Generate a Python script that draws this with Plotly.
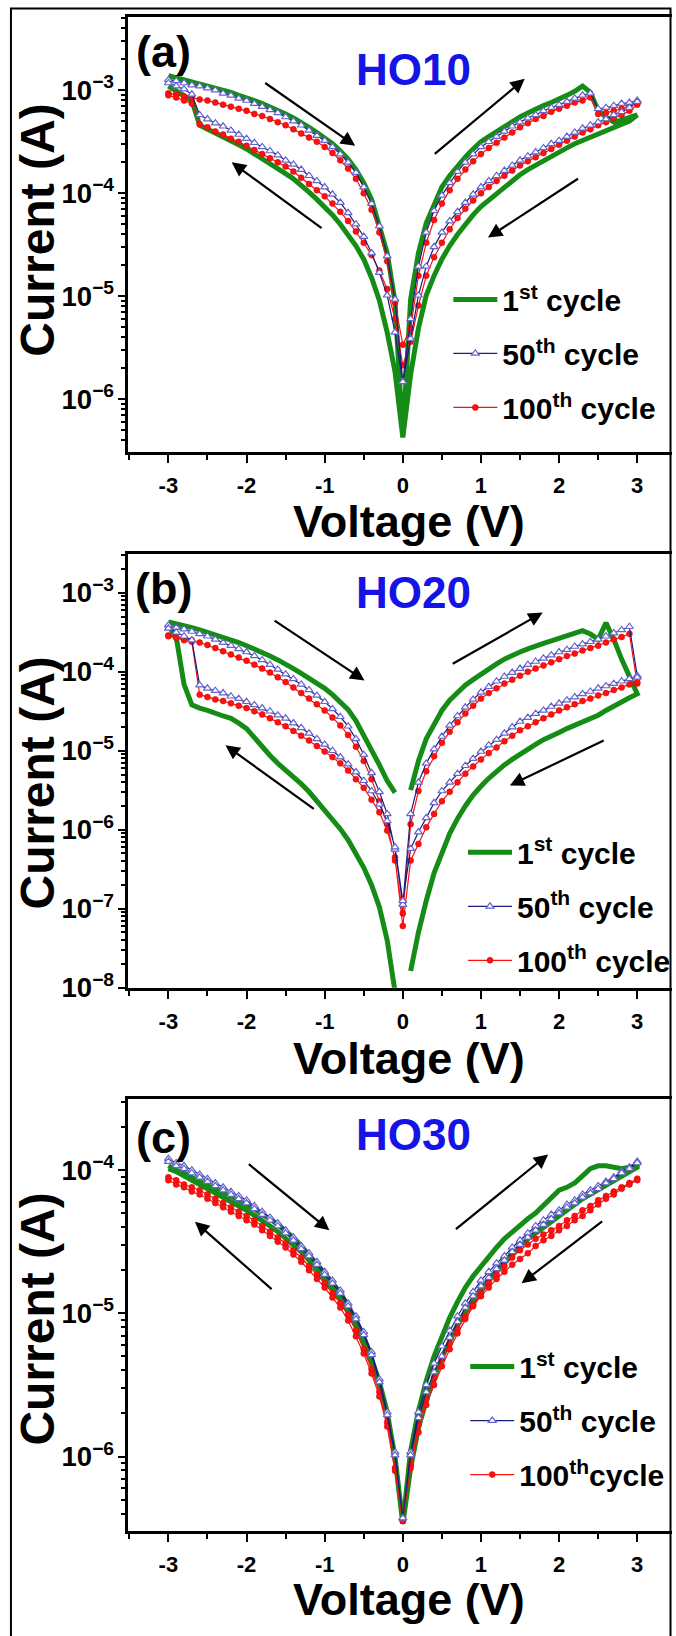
import plotly.graph_objects as go

FONT = "Liberation Sans, Arial, Helvetica, sans-serif"
W, H = 676, 1636

# ---------------- data: voltage sweep (V) ----------------
V_FWD = [-3.0, -2.9, -2.8, -2.7, -2.6, -2.5, -2.4, -2.3, -2.2, -2.1, -2.0, -1.9, -1.8, -1.7, -1.6, -1.5,
         -1.4, -1.3, -1.2, -1.1, -1.0, -0.9, -0.8, -0.7, -0.6, -0.5, -0.4, -0.3, -0.2, -0.1, 0.0,
         0.1, 0.2, 0.3, 0.4, 0.5, 0.6, 0.7, 0.8, 0.9, 1.0, 1.1, 1.2, 1.3, 1.4, 1.5,
         1.6, 1.7, 1.8, 1.9, 2.0, 2.1, 2.2, 2.3, 2.4, 2.5, 2.6, 2.7, 2.8, 2.9, 3.0]
V_REV = [3.0, 2.9, 2.8, 2.7, 2.6, 2.5, 2.4, 2.3, 2.2, 2.1, 2.0, 1.9, 1.8, 1.7, 1.6, 1.5,
         1.4, 1.3, 1.2, 1.1, 1.0, 0.9, 0.8, 0.7, 0.6, 0.5, 0.4, 0.3, 0.2, 0.1, 0.0,
         -0.1, -0.2, -0.3, -0.4, -0.5, -0.6, -0.7, -0.8, -0.9, -1.0, -1.1, -1.2, -1.3, -1.4, -1.5,
         -1.6, -1.7, -1.8, -1.9, -2.0, -2.1, -2.2, -2.3, -2.4, -2.5, -2.6, -2.7, -2.8, -2.9, -3.0]

# ---------------- data: log10(current / A) ----------------
# HO10
HO10_C1_FWD = [-2.86, -2.88, -2.90, -2.92, -2.93, -2.95, -2.97, -3.00, -3.02, -3.05, -3.07, -3.10, -3.13, -3.16, -3.19, -3.23,
               -3.27, -3.31, -3.36, -3.41, -3.46, -3.52, -3.59, -3.67, -3.77, -3.90, -4.06, -4.30, -4.58, -5.05, -6.37,
               -5.03, -4.58, -4.29, -4.10, -3.94, -3.83, -3.73, -3.65, -3.57, -3.50, -3.45, -3.40, -3.35, -3.30, -3.26,
               -3.22, -3.18, -3.15, -3.12, -3.09, -3.05, -3.01, -2.96, -3.02, -3.20, -3.26, -3.31, -3.29, -3.27, -3.24]
HO10_C1_REV = [-3.24, -3.30, -3.33, -3.36, -3.39, -3.42, -3.45, -3.48, -3.52, -3.56, -3.60, -3.64, -3.68, -3.72, -3.77, -3.82,
               -3.88, -3.94, -4.00, -4.06, -4.13, -4.21, -4.30, -4.40, -4.51, -4.64, -4.80, -4.99, -5.31, -5.76, -6.37,
               -5.73, -5.35, -5.04, -4.82, -4.64, -4.51, -4.40, -4.30, -4.21, -4.13, -4.06, -3.99, -3.92, -3.86, -3.81,
               -3.76, -3.71, -3.66, -3.61, -3.57, -3.53, -3.49, -3.45, -3.41, -3.38, -3.34, -3.10, -3.05, -3.00, -2.96]
HO10_C50_FWD = [-2.90, -2.91, -2.93, -2.95, -2.96, -2.98, -3.00, -3.03, -3.05, -3.08, -3.10, -3.13, -3.16, -3.19, -3.22, -3.26,
                -3.30, -3.34, -3.39, -3.44, -3.49, -3.55, -3.62, -3.70, -3.80, -3.94, -4.10, -4.32, -4.61, -5.03, -5.83,
                -5.22, -4.71, -4.38, -4.17, -4.02, -3.90, -3.79, -3.70, -3.62, -3.55, -3.50, -3.45, -3.40, -3.35, -3.31,
                -3.27, -3.24, -3.20, -3.17, -3.14, -3.11, -3.08, -3.05, -3.03, -3.18, -3.17, -3.15, -3.13, -3.12, -3.10]
HO10_C50_REV = [-3.11, -3.17, -3.21, -3.24, -3.28, -3.31, -3.34, -3.37, -3.41, -3.45, -3.49, -3.52, -3.56, -3.60, -3.64, -3.68,
                -3.73, -3.78, -3.83, -3.88, -3.94, -4.01, -4.09, -4.18, -4.27, -4.38, -4.52, -4.71, -4.99, -5.41, -5.83,
                -5.35, -4.99, -4.77, -4.58, -4.42, -4.30, -4.19, -4.09, -4.01, -3.94, -3.88, -3.83, -3.77, -3.72, -3.68,
                -3.63, -3.59, -3.55, -3.51, -3.47, -3.43, -3.39, -3.35, -3.32, -3.28, -3.24, -3.04, -2.99, -2.96, -2.93]
HO10_C100_FWD = [-3.03, -3.04, -3.06, -3.07, -3.09, -3.10, -3.12, -3.14, -3.16, -3.18, -3.20, -3.23, -3.25, -3.28, -3.31, -3.34,
                 -3.38, -3.42, -3.46, -3.50, -3.55, -3.61, -3.68, -3.76, -3.86, -4.00, -4.16, -4.38, -4.66, -5.06, -5.47,
                 -5.31, -4.80, -4.48, -4.26, -4.10, -3.97, -3.86, -3.77, -3.69, -3.62, -3.56, -3.51, -3.46, -3.41, -3.36,
                 -3.32, -3.28, -3.25, -3.21, -3.18, -3.15, -3.12, -3.10, -3.07, -3.23, -3.22, -3.20, -3.18, -3.15, -3.13]
HO10_C100_REV = [-3.14, -3.20, -3.24, -3.27, -3.31, -3.34, -3.38, -3.41, -3.45, -3.49, -3.53, -3.57, -3.61, -3.65, -3.69, -3.73,
                 -3.78, -3.83, -3.88, -3.94, -4.00, -4.07, -4.15, -4.24, -4.35, -4.48, -4.62, -4.80, -5.09, -5.44, -5.67,
                 -5.22, -4.93, -4.75, -4.60, -4.48, -4.37, -4.27, -4.18, -4.10, -4.03, -3.97, -3.91, -3.85, -3.79, -3.74,
                 -3.70, -3.66, -3.62, -3.58, -3.54, -3.50, -3.47, -3.43, -3.40, -3.36, -3.33, -3.13, -3.10, -3.07, -3.05]

# HO20
HO20_C1_FWD = [-3.37, -3.39, -3.42, -3.44, -3.47, -3.50, -3.53, -3.56, -3.60, -3.63, -3.67, -3.71, -3.76, -3.80, -3.85, -3.90,
               -3.96, -4.02, -4.08, -4.14, -4.21, -4.29, -4.38, -4.48, -4.62, -4.80, -4.98, -5.18, -5.38, -5.53, None,
               -5.50, -5.13, -4.85, -4.66, -4.49, -4.36, -4.26, -4.17, -4.10, -4.03, -3.96, -3.90, -3.84, -3.79, -3.75,
               -3.71, -3.67, -3.64, -3.61, -3.58, -3.55, -3.51, -3.48, -3.52, -3.59, -3.38, -3.59, -3.84, -4.05, -4.26]
HO20_C1_REV = [-4.28, -4.33, -4.38, -4.44, -4.49, -4.55, -4.59, -4.63, -4.67, -4.72, -4.77, -4.81, -4.86, -4.92, -4.98, -5.05,
               -5.11, -5.18, -5.26, -5.35, -5.45, -5.56, -5.70, -5.86, -6.05, -6.28, -6.55, -6.90, -7.30, -7.79, None,
               -8.05, -7.40, -6.98, -6.70, -6.48, -6.30, -6.13, -5.99, -5.87, -5.76, -5.64, -5.52, -5.42, -5.34, -5.26,
               -5.16, -5.06, -4.95, -4.83, -4.72, -4.65, -4.59, -4.56, -4.52, -4.49, -4.46, -4.42, -4.16, -3.56, -3.42]
HO20_C50_FWD = [-3.41, -3.44, -3.46, -3.49, -3.52, -3.55, -3.59, -3.63, -3.67, -3.71, -3.75, -3.80, -3.85, -3.91, -3.97, -4.03,
                -4.09, -4.16, -4.23, -4.30, -4.38, -4.47, -4.57, -4.69, -4.85, -5.05, -5.28, -5.52, -5.80, -6.25, -6.95,
                -5.80, -5.40, -5.16, -4.98, -4.82, -4.68, -4.56, -4.45, -4.35, -4.26, -4.19, -4.12, -4.06, -4.01, -3.96,
                -3.91, -3.87, -3.83, -3.79, -3.75, -3.72, -3.68, -3.65, -3.62, -3.59, -3.55, -3.51, -3.47, -3.43, -4.05]
HO20_C50_REV = [-4.07, -4.09, -4.12, -4.15, -4.18, -4.21, -4.25, -4.28, -4.32, -4.36, -4.40, -4.44, -4.49, -4.53, -4.58, -4.63,
                -4.70, -4.78, -4.86, -4.93, -5.01, -5.10, -5.19, -5.29, -5.40, -5.51, -5.66, -5.85, -6.03, -6.24, -6.90,
                -6.22, -5.89, -5.68, -5.51, -5.38, -5.27, -5.17, -5.08, -5.00, -4.92, -4.85, -4.78, -4.71, -4.65, -4.59,
                -4.55, -4.50, -4.46, -4.42, -4.38, -4.34, -4.31, -4.27, -4.24, -4.21, -4.17, -3.60, -3.55, -3.50, -3.45]
HO20_C100_FWD = [-3.54, -3.56, -3.58, -3.60, -3.63, -3.66, -3.70, -3.74, -3.78, -3.82, -3.86, -3.91, -3.96, -4.01, -4.07, -4.13,
                 -4.20, -4.27, -4.34, -4.41, -4.49, -4.58, -4.68, -4.80, -4.95, -5.13, -5.36, -5.64, -5.93, -6.39, -7.06,
                 -5.93, -5.51, -5.26, -5.07, -4.90, -4.76, -4.64, -4.53, -4.43, -4.34, -4.27, -4.21, -4.15, -4.10, -4.05,
                 -4.00, -3.96, -3.92, -3.88, -3.84, -3.80, -3.77, -3.73, -3.70, -3.67, -3.63, -3.59, -3.56, -3.52, -4.15]
HO20_C100_REV = [-4.13, -4.16, -4.20, -4.23, -4.27, -4.30, -4.34, -4.37, -4.41, -4.45, -4.49, -4.54, -4.59, -4.64, -4.69, -4.74,
                 -4.81, -4.88, -4.96, -5.03, -5.11, -5.20, -5.29, -5.40, -5.52, -5.64, -5.80, -5.97, -6.18, -6.39, -7.22,
                 -6.35, -6.01, -5.78, -5.62, -5.47, -5.36, -5.25, -5.16, -5.08, -5.01, -4.94, -4.87, -4.81, -4.75, -4.69,
                 -4.64, -4.59, -4.54, -4.50, -4.46, -4.43, -4.40, -4.37, -4.35, -4.32, -4.29, -3.62, -3.60, -3.57, -3.55]

# HO30
HO30_C1_FWD = [-3.97, -4.00, -4.02, -4.05, -4.08, -4.11, -4.13, -4.16, -4.18, -4.21, -4.24, -4.27, -4.31, -4.34, -4.38, -4.42,
               -4.47, -4.53, -4.59, -4.65, -4.72, -4.79, -4.86, -4.95, -5.06, -5.18, -5.32, -5.48, -5.69, -6.01, -6.47,
               -5.96, -5.68, -5.47, -5.30, -5.16, -5.03, -4.92, -4.82, -4.74, -4.67, -4.60, -4.54, -4.48, -4.43, -4.38,
               -4.34, -4.30, -4.25, -4.20, -4.14, -4.12, -4.09, -4.04, -3.99, -3.97, -3.97, -3.98, -3.99, -3.98, -3.97]
HO30_C1_REV = [-3.98, -4.01, -4.04, -4.07, -4.10, -4.14, -4.17, -4.20, -4.24, -4.28, -4.32, -4.35, -4.39, -4.43, -4.48, -4.53,
               -4.58, -4.64, -4.70, -4.77, -4.84, -4.91, -4.99, -5.08, -5.19, -5.31, -5.45, -5.61, -5.80, -6.08, -6.47,
               -6.00, -5.70, -5.50, -5.34, -5.21, -5.09, -4.99, -4.90, -4.83, -4.76, -4.69, -4.63, -4.57, -4.52, -4.47,
               -4.43, -4.39, -4.35, -4.31, -4.28, -4.25, -4.22, -4.19, -4.16, -4.13, -4.10, -4.07, -4.04, -4.01, -3.99]
HO30_C50_FWD = [-3.92, -3.95, -3.97, -4.00, -4.03, -4.06, -4.09, -4.12, -4.15, -4.18, -4.21, -4.25, -4.29, -4.33, -4.37, -4.42,
                -4.47, -4.53, -4.58, -4.64, -4.71, -4.77, -4.84, -4.93, -5.02, -5.13, -5.27, -5.46, -5.69, -5.97, -6.43,
                -5.97, -5.69, -5.50, -5.35, -5.23, -5.12, -5.02, -4.93, -4.85, -4.77, -4.71, -4.65, -4.60, -4.54, -4.49,
                -4.44, -4.39, -4.35, -4.31, -4.28, -4.24, -4.21, -4.17, -4.14, -4.11, -4.08, -4.05, -4.01, -3.98, -3.94]
HO30_C50_REV = [-3.95, -3.99, -4.02, -4.06, -4.09, -4.13, -4.16, -4.19, -4.23, -4.26, -4.30, -4.34, -4.38, -4.42, -4.47, -4.52,
                -4.57, -4.63, -4.69, -4.75, -4.81, -4.88, -4.96, -5.06, -5.17, -5.30, -5.41, -5.55, -5.73, -5.99, -6.43,
                -5.99, -5.71, -5.48, -5.29, -5.15, -5.04, -4.95, -4.86, -4.79, -4.73, -4.66, -4.60, -4.55, -4.49, -4.44,
                -4.39, -4.35, -4.31, -4.27, -4.23, -4.20, -4.17, -4.14, -4.11, -4.08, -4.05, -4.02, -3.99, -3.97, -3.94]
HO30_C100_FWD = [-4.05, -4.07, -4.10, -4.12, -4.14, -4.17, -4.20, -4.23, -4.26, -4.29, -4.32, -4.35, -4.39, -4.43, -4.47, -4.51,
                 -4.56, -4.61, -4.67, -4.73, -4.79, -4.86, -4.93, -5.01, -5.12, -5.25, -5.39, -5.55, -5.76, -6.08, -6.45,
                 -6.06, -5.78, -5.60, -5.45, -5.32, -5.21, -5.11, -5.02, -4.94, -4.86, -4.79, -4.73, -4.67, -4.61, -4.56,
                 -4.52, -4.48, -4.45, -4.42, -4.39, -4.35, -4.32, -4.28, -4.25, -4.21, -4.18, -4.15, -4.12, -4.09, -4.06]
HO30_C100_REV = [-4.07, -4.10, -4.13, -4.17, -4.20, -4.24, -4.28, -4.32, -4.35, -4.39, -4.42, -4.46, -4.49, -4.53, -4.58, -4.62,
                 -4.66, -4.71, -4.76, -4.82, -4.88, -4.95, -5.04, -5.14, -5.25, -5.37, -5.50, -5.64, -5.83, -6.08, -6.45,
                 -6.10, -5.79, -5.58, -5.42, -5.28, -5.16, -5.05, -4.96, -4.89, -4.82, -4.76, -4.70, -4.64, -4.59, -4.54,
                 -4.50, -4.46, -4.42, -4.38, -4.35, -4.32, -4.29, -4.26, -4.23, -4.20, -4.17, -4.15, -4.12, -4.10, -4.07]

SAMPLES = ["HO10", "HO20", "HO30"]
PANEL_LABELS = ["(a)", "(b)", "(c)"]
CYCLE_NAMES = [
    ["1<sup>st</sup> cycle", "50<sup>th</sup> cycle", "100<sup>th</sup> cycle"],
    ["1<sup>st</sup> cycle", "50<sup>th</sup> cycle", "100<sup>th</sup> cycle"],
    ["1<sup>st</sup> cycle", "50<sup>th</sup> cycle", "100<sup>th</sup>cycle"],
]
SERIES = [
    [(HO10_C1_FWD, HO10_C1_REV), (HO10_C50_FWD, HO10_C50_REV), (HO10_C100_FWD, HO10_C100_REV)],
    [(HO20_C1_FWD, HO20_C1_REV), (HO20_C50_FWD, HO20_C50_REV), (HO20_C100_FWD, HO20_C100_REV)],
    [(HO30_C1_FWD, HO30_C1_REV), (HO30_C50_FWD, HO30_C50_REV), (HO30_C100_FWD, HO30_C100_REV)],
]
X_TICKS = [-3, -2, -1, 0, 1, 2, 3]
X_TICKTEXT = ["-3", "-2", "-1", "0", "1", "2", "3"]

# sweep-direction arrows (tail V, tail log10 I, head V, head log10 I)
ARROWS = [
    [(-1.78, -2.92, -0.61, -3.54), (-1.02, -4.35, -2.19, -3.70), (0.39, -3.63, 1.56, -2.89), (2.26, -3.85, 1.09, -4.43)],
    [(-1.66, -3.34, -0.49, -4.11), (-1.12, -5.75, -2.27, -4.93), (0.62, -3.91, 1.79, -3.25), (2.59, -4.86, 1.37, -5.44)],
    [(-1.99, -3.95, -0.94, -4.42), (-1.66, -4.84, -2.66, -4.36), (0.66, -4.42, 1.86, -3.89), (2.57, -4.35, 1.52, -4.79)],
]

# ---------------- layout geometry (pixels in the 676x1636 page) ----------------
PLOT_TOP = [17.3, 559.0, 1109.0]
PLOT_BOT = [456.4, 997.0, 1545.0]
Y_RANGES = [[-6.513, -2.291], [-8.003, -2.507], [-6.519, -3.502]]
X_RANGE = [-3.514, 3.445]
X_LEFT = 129.0

GREEN = "#158c15"
NAVY = "#1c1c80"
TRI = "#6464cc"
RED = "#ff1010"


def py(p):
    return 1 - p / H


def px(p):
    return p / W


for grp in SERIES:
    for f, r in grp:
        assert len(f) == len(V_FWD) and len(r) == len(V_REV), (len(f), len(r))

fig = go.Figure()
legend_keys = ["legend", "legend2", "legend3"]


def cur(lst):
    return [None if v is None else 10 ** v for v in lst]


for i in range(3):
    xa = "x" if i == 0 else f"x{i+1}"
    ya = "y" if i == 0 else f"y{i+1}"
    (g_f, g_r), (b_f, b_r), (r_f, r_l) = SERIES[i]
    names = CYCLE_NAMES[i]
    xs = V_FWD + V_REV

    # 1st cycle
    fig.add_trace(go.Scatter(
        x=xs, y=cur(g_f + g_r), xaxis=xa, yaxis=ya, mode="lines", name=names[0],
        line=dict(color=GREEN, width=5), connectgaps=False,
        legend=legend_keys[i], legendgroup=f"g{i}1", legendrank=1))
    # 100th cycle
    fig.add_trace(go.Scatter(
        x=xs, y=cur(r_f + r_l), xaxis=xa, yaxis=ya, mode="lines+markers", name=names[2],
        line=dict(color=RED, width=1.2),
        marker=dict(symbol="circle", size=6, color=RED, line=dict(color="#d00000", width=0.5)),
        legend=legend_keys[i], legendgroup=f"g{i}3", legendrank=3))
    # 50th cycle
    fig.add_trace(go.Scatter(
        x=xs, y=cur(b_f + b_r), xaxis=xa, yaxis=ya, mode="lines+markers", name=names[1],
        line=dict(color=NAVY, width=1.2),
        marker=dict(symbol="triangle-up", size=7, color="white", line=dict(color=TRI, width=1.2)),
        legend=legend_keys[i], legendgroup=f"g{i}2", legendrank=2))

layout = dict(
    width=W, height=H, autosize=False,
    margin=dict(l=0, r=0, t=0, b=0, pad=0),
    paper_bgcolor="white", plot_bgcolor="white",
    font=dict(family=FONT, color="black"),
    showlegend=True,
)

legend_pos = [(498, 276), (513, 834), (515, 1353)]
for i in range(3):
    sx = "" if i == 0 else str(i + 1)
    dom = [py(PLOT_BOT[i]), py(PLOT_TOP[i])]
    layout[f"xaxis{sx}"] = dict(
        domain=[px(X_LEFT), 1.0], anchor=f"y{sx}", range=X_RANGE,
        tickmode="array", tickvals=X_TICKS, ticktext=X_TICKTEXT,
        ticks="outside", ticklen=8, tickwidth=2, tickcolor="black",
        minor=dict(dtick=0.5, tick0=0, ticks="outside", ticklen=5, tickwidth=2, tickcolor="black"),
        showline=True, linewidth=2.5, linecolor="black", mirror=True,
        showgrid=False, zeroline=False,
        tickfont=dict(family=FONT, size=22, color="black", weight="bold"),
        ticklabelstandoff=4,
    )
    layout[f"yaxis{sx}"] = dict(
        domain=dom, anchor=f"x{sx}", type="log", range=Y_RANGES[i],
        dtick=1, exponentformat="power", showexponent="all",
        ticks="outside", ticklen=7, tickwidth=2, tickcolor="black",
        minor=dict(dtick="D1", ticks="outside", ticklen=4, tickwidth=1.5, tickcolor="black"),
        showline=True, linewidth=2.5, linecolor="black", mirror=False,
        showgrid=False, zeroline=False,
        tickfont=dict(family=FONT, size=22, color="black", weight="bold"),
    )
    lx, ly = legend_pos[i]
    layout[legend_keys[i]] = dict(
        x=px(lx - 47), y=py(ly), xanchor="left", yanchor="top",
        bgcolor="rgba(0,0,0,0)", borderwidth=0,
        font=dict(family=FONT, size=30, color="black", weight="bold"),
        traceorder="grouped", tracegroupgap=12, itemwidth=44,
    )

fig.update_layout(**layout)

# text annotations
VOLT_Y = [526, 1068, 1614]
CURR_Y = [232, 790, 1331]
LABEL_Y = [52, 594, 1148]
SAMPLE_Y = [70, 598, 1145]
ann = []
for i in range(3):
    ann.append(dict(text="Voltage (V)", x=px(411), y=py(VOLT_Y[i]), xref="paper", yref="paper",
                    showarrow=False, xanchor="center", yanchor="middle",
                    font=dict(family=FONT, size=45, color="black", weight="bold")))
    ann.append(dict(text="Current (A)", x=px(38), y=py(CURR_Y[i]), xref="paper", yref="paper",
                    showarrow=False, xanchor="center", yanchor="middle", textangle=-90,
                    font=dict(family=FONT, size=48, color="black", weight="bold")))
    ann.append(dict(text=PANEL_LABELS[i], x=px(164), y=py(LABEL_Y[i]), xref="paper", yref="paper",
                    showarrow=False, xanchor="center", yanchor="middle",
                    font=dict(family=FONT, size=45, color="black", weight="bold")))
    ann.append(dict(text=SAMPLES[i], x=px(416), y=py(SAMPLE_Y[i]), xref="paper", yref="paper",
                    showarrow=False, xanchor="center", yanchor="middle",
                    font=dict(family=FONT, size=44, color="#1414e6", weight="bold")))
    sx = "" if i == 0 else str(i + 1)
    for (tx, ty, hx, hy) in ARROWS[i]:
        ann.append(dict(text="", x=hx, y=hy, ax=tx, ay=ty,
                        xref=f"x{sx}", yref=f"y{sx}", axref=f"x{sx}", ayref=f"y{sx}",
                        showarrow=True, arrowhead=2, arrowsize=1.3, arrowwidth=2.2,
                        arrowcolor="black", standoff=0, startstandoff=0))
fig.update_layout(annotations=ann)

# outer frame of the figure
fig.add_shape(type="rect", xref="paper", yref="paper",
              x0=px(11), x1=px(674.5), y0=-0.01, y1=py(8.5),
              line=dict(color="black", width=2), fillcolor="rgba(0,0,0,0)", layer="above")

fig.write_html("out.html")
